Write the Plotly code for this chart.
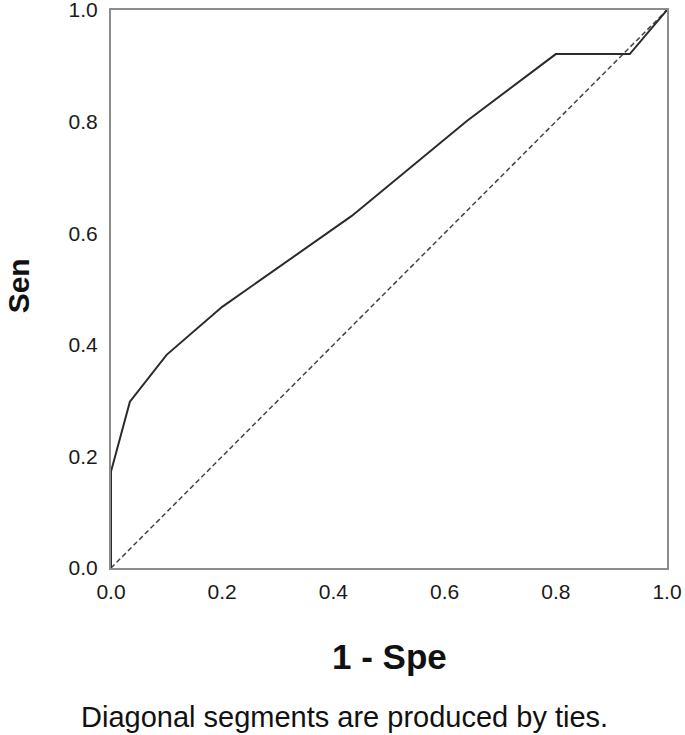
import plotly.graph_objects as go

fpr = [0.0, 0.0, 0.034, 0.100, 0.200, 0.433, 0.640, 0.800, 0.933, 1.0]
tpr = [0.0, 0.173, 0.298, 0.382, 0.468, 0.631, 0.801, 0.921, 0.921, 1.0]
ref_x = [0.0, 1.0]
ref_y = [0.0, 1.0]
tick_vals = [0.0, 0.2, 0.4, 0.6, 0.8, 1.0]

FONT = "Liberation Sans, Arial, sans-serif"

fig = go.Figure()
fig.add_trace(go.Scatter(x=ref_x, y=ref_y, mode="lines",
                         line=dict(color="#444444", width=1.5, dash="5px,3px"),
                         cliponaxis=False, showlegend=False))
fig.add_trace(go.Scatter(x=fpr, y=tpr, mode="lines",
                         line=dict(color="#2b2b2b", width=2),
                         cliponaxis=False, showlegend=False))

axis_common = dict(range=[0, 1], tickvals=tick_vals, tickformat=".1f",
                   showgrid=False, zeroline=False, showline=True, mirror=True,
                   linecolor="#8c8c8c", linewidth=2, ticks="", automargin=False,
                   ticklabeloverflow="allow",
                   tickfont=dict(family=FONT, size=21, color="#1a1a1a"))

fig.update_layout(
    template="none",
    width=685, height=735,
    margin=dict(l=111, r=18, t=10, b=167),
    paper_bgcolor="white", plot_bgcolor="white",
    xaxis=dict(**axis_common, ticklabelstandoff=4),
    yaxis=dict(**axis_common, ticklabelstandoff=7),
    font=dict(family=FONT, color="#111111"),
    annotations=[
        dict(text="<b>1 - Spe</b>", xref="paper", yref="paper", x=0.5, y=-0.158,
             showarrow=False, font=dict(size=35), xanchor="center", yanchor="middle"),
        dict(text="<b>Sen</b>", xref="paper", yref="paper", x=-0.167, y=0.505,
             showarrow=False, font=dict(size=30), textangle=-90,
             xanchor="center", yanchor="middle"),
        dict(text="Diagonal segments are produced by ties.", xref="paper", yref="paper",
             x=0.42, y=-0.267, showarrow=False, font=dict(size=29),
             xanchor="center", yanchor="middle"),
    ],
)

fig.write_html("out.html", config={"displayModeBar": False},
               post_script="document.body.style.margin='0';")
